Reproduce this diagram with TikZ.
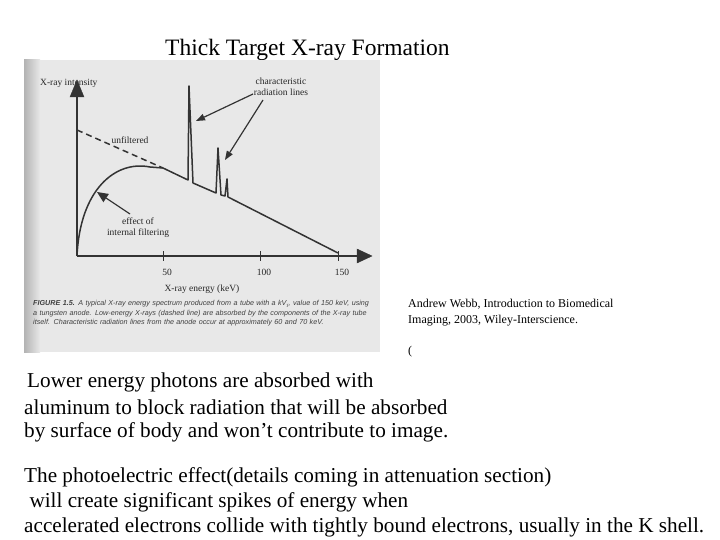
\documentclass[tikz,border=0pt]{standalone}
\usepackage{fontspec}
\setmainfont{Liberation Serif}
\newfontfamily\capfont{Liberation Sans}
\usetikzlibrary{calc}
\newcommand{\myarr}[5][black!80]{%
  \coordinate (B) at ($(#3)!#4!(#2)$);
  \draw[line width=1.2pt,#1] (#2) -- (B);
  \fill[#1] (#3) -- ($(B)!#5!90:(#3)$) -- ($(B)!#5!-90:(#3)$) -- cycle;}
\begin{document}
\begin{tikzpicture}[x=1pt,y=-1pt,
  txt/.style={anchor=west,inner sep=0pt,font=\fontsize{21.2}{24}\selectfont},
  small/.style={inner sep=0pt,font=\fontsize{9.5}{11}\selectfont,text=black!85},
  spec/.style={line width=1.5pt,draw=black!80,line join=round}]
\useasboundingbox (0,0) rectangle (720,540);
\fill[white] (0,0) rectangle (720,540);
\node[inner sep=0pt,anchor=west,font=\fontsize{23.5}{26}\selectfont] (title) at (165,50) {Thick Target X-ray Formation};
% scanned figure background
\begin{scope}
\shade[left color=black!30,right color=black!9] (24,60) rectangle (40,352);
\end{scope}
\fill[black!9] (40,60) rectangle (380,352);
% axes
\coordinate (orig) at (77,256);
\coordinate (ytip) at (77,80);
\coordinate (xtip) at (372,256);
\draw[line width=1.3pt,black!80] (orig) -- (77,96) (orig) -- (358,256);
\foreach \x/\l in {163/50,260/100,338/150}{
  \draw[line width=1pt,black!80] (\x,251) -- (\x,261);
  \node[small] (t\l) at (\x+4,272) {\l};}
\node[small] (xl) at (202,289) {X-ray energy (keV)};
\node[small,anchor=west] (yl) at (40,83) {X-ray intensity};
% spectrum
\draw[spec] (77,256) .. controls (80,190) and (115,160) .. (150,167) -- (163,168)
  -- (188,180) -- (189,86) -- (193,183) -- (216,193) -- (218,148) -- (221,195)
  -- (225,196) -- (227,179) -- (228,197) -- (338,253);
\draw[spec,dash pattern=on 6pt off 4pt] (77,130) -- (163,168);
\node[small] (unf) at (130,140) {unfiltered};
\node[small,align=center] (char) at (281,87) {characteristic\\radiation lines};
\coordinate (s1) at (253,94);
\coordinate (a1) at (196,121);
\coordinate (s2) at (263,100);
\coordinate (a2) at (225,160);
\coordinate (s3) at (130,214);
\coordinate (a3) at (97,192);
\myarr{s1}{a1}{9pt}{3.5pt}
\myarr{s2}{a2}{9pt}{3.5pt}
\myarr{s3}{a3}{11pt}{5pt}
\node[small,align=center] (eff) at (138,228) {effect of\\internal filtering};
\node[anchor=north west,inner sep=0pt,align=left,text width=345pt,
  font=\capfont\itshape\fontsize{7.2}{9.6}\selectfont,text=black!75] (cap) at (33,300)
  {\textbf{FIGURE 1.5.} A typical X-ray energy spectrum produced from a tube with a kV$_p$ value of 150 keV, using a tungsten anode. Low-energy X-rays (dashed line) are absorbed by the components of the X-ray tube itself. Characteristic radiation lines from the anode occur at approximately 60 and 70 keV.};
% credits
\node[anchor=north west,inner sep=0pt,align=left,font=\fontsize{12}{16}\selectfont] (cred) at (408,299)
  {Andrew Webb, Introduction to Biomedical\\Imaging, 2003, Wiley-Interscience.};
\node[anchor=west,inner sep=0pt,font=\fontsize{12}{12}\selectfont] (par) at (408,352) {(};
% body text
\node[txt] (l1) at (27,382) {Lower energy photons are absorbed with};
\node[txt] (l2) at (24,407) {aluminum to block radiation that will be absorbed};
\node[txt] (l3) at (24,432) {by surface of body and won’t contribute to image.};
\node[txt] (l4) at (24,477) {The photoelectric effect(details coming in attenuation section)};
\node[txt] (l5) at (24,502) {\ will create significant spikes of energy when};
\node[txt] (l6) at (24,527) {accelerated electrons collide with tightly bound electrons, usually in the K shell.};
% axis arrowheads
\filldraw[black!80,line join=miter] (ytip) -- (70,97) -- (84,97) -- cycle;
\filldraw[black!80,line join=miter] (xtip) -- (357,249) -- (357,263) -- cycle;
\end{tikzpicture}
\end{document}
